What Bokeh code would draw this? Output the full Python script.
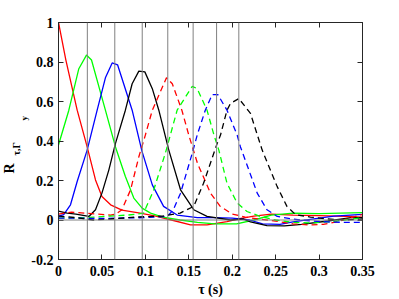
from bokeh.plotting import figure
from bokeh.models import Range1d, LinearAxis, FixedTicker, Span, CustomJSTickFormatter, Title
from bokeh.embed import file_html
from bokeh.resources import INLINE

# ---------------- data ----------------
x_ticks = [0, 0.05, 0.1, 0.15, 0.2, 0.25, 0.3, 0.35]
x_tick_labels = ["0", "0.05", "0.1", "0.15", "0.2", "0.25", "0.3", "0.35"]
y_ticks = [-0.2, 0, 0.2, 0.4, 0.6, 0.8, 1.0]
y_tick_labels = ["-0.2", "0", "0.2", "0.4", "0.6", "0.8", "1"]

peak_times = [0.0332, 0.0648, 0.0964, 0.1258, 0.155, 0.182, 0.2076]

red_t = [0, 0.0085, 0.0215, 0.033, 0.0426, 0.050, 0.060, 0.073, 0.094, 0.112, 0.13,
         0.152, 0.171, 0.194, 0.21, 0.225, 0.245, 0.27, 0.3, 0.33, 0.35]
red_v = [1.0, 0.81, 0.556, 0.37, 0.203, 0.119, 0.077, 0.05, 0.035, 0.02, 0.0,
         -0.025, -0.025, -0.008, 0.008, 0.02, 0.03, 0.025, 0.022, 0.018, 0.015]

green_t = [0, 0.0119, 0.0234, 0.0322, 0.038, 0.054, 0.0656, 0.077, 0.0867, 0.0963,
           0.106, 0.12, 0.14, 0.16, 0.18, 0.205, 0.225, 0.245, 0.27, 0.3, 0.35]
green_v = [0.38, 0.556, 0.766, 0.835, 0.81, 0.556, 0.37, 0.22, 0.111, 0.06,
           0.035, 0.015, 0.0, -0.012, -0.02, -0.02, 0.0, 0.025, 0.035, 0.032, 0.037]

blue_t = [0, 0.006, 0.0138, 0.0215, 0.033, 0.0445, 0.054, 0.0618, 0.068, 0.0848,
          0.096, 0.108, 0.121, 0.1366, 0.16, 0.18, 0.2, 0.22, 0.235, 0.255, 0.27,
          0.29, 0.317, 0.35]
blue_v = [0.02, 0.027, 0.077, 0.195, 0.354, 0.556, 0.72, 0.795, 0.786, 0.556,
          0.35, 0.178, 0.069, 0.025, 0.012, 0.012, 0.01, 0.0, -0.02, -0.022, -0.01,
          0.003, 0.02, 0.028]

black_t = [0, 0.01, 0.02, 0.035, 0.0426, 0.05, 0.058, 0.0656, 0.077, 0.0848, 0.0925,
           0.0994, 0.108, 0.1155, 0.127, 0.1405, 0.1557, 0.171, 0.198, 0.213, 0.221,
           0.24, 0.26, 0.28, 0.31, 0.337, 0.35]
black_v = [0.045, 0.035, 0.03, 0.018, 0.052, 0.136, 0.254, 0.388, 0.556, 0.69, 0.754,
           0.75, 0.665, 0.556, 0.354, 0.153, 0.052, 0.018, 0.0, 0.005, -0.01,
           -0.028, -0.03, -0.022, -0.005, 0.012, 0.012]

red_d_t = [0, 0.015, 0.03, 0.045, 0.06, 0.066, 0.073, 0.083, 0.0925, 0.1, 0.108,
           0.1243, 0.131, 0.142, 0.15, 0.16, 0.175, 0.186, 0.2, 0.215, 0.23, 0.25,
           0.27, 0.29, 0.305, 0.32, 0.337, 0.35]
red_d_v = [0.03, 0.04, 0.035, 0.03, 0.025, 0.03, 0.052, 0.153, 0.32, 0.43, 0.556,
           0.72, 0.69, 0.556, 0.43, 0.287, 0.136, 0.07, 0.03, 0.015, 0.005, -0.005,
           -0.02, -0.025, -0.022, -0.01, 0.012, 0.028]

green_d_t = [0, 0.03, 0.06, 0.08, 0.09, 0.098, 0.1097, 0.123, 0.1366, 0.154, 0.1597,
             0.171, 0.179, 0.1846, 0.194, 0.2057, 0.217, 0.2325, 0.25, 0.27, 0.29,
             0.31, 0.33, 0.35]
green_d_v = [0.01, 0.012, 0.02, 0.025, 0.03, 0.035, 0.153, 0.338, 0.556, 0.677, 0.665,
             0.556, 0.43, 0.354, 0.186, 0.086, 0.043, 0.018, 0.0, -0.012, -0.015,
             -0.01, 0.0, 0.012]

blue_d_t = [0, 0.05, 0.1, 0.125, 0.132, 0.1405, 0.154, 0.1597, 0.169, 0.177, 0.1834,
            0.194, 0.2057, 0.2095, 0.2288, 0.24, 0.2518, 0.27, 0.29, 0.31, 0.33, 0.35]
blue_d_v = [0.01, 0.008, 0.012, 0.018, 0.05, 0.136, 0.338, 0.43, 0.556, 0.635, 0.635,
            0.556, 0.43, 0.37, 0.136, 0.052, 0.018, 0.005, -0.005, -0.01, -0.012, -0.012]

black_d_t = [0, 0.02, 0.04, 0.06, 0.09, 0.12, 0.14, 0.1557, 0.167, 0.1827, 0.1865,
             0.194, 0.198, 0.2076, 0.221, 0.2345, 0.2518, 0.263, 0.273, 0.29, 0.31,
             0.33, 0.35]
black_d_v = [0.02, 0.012, 0.0, 0.005, 0.015, 0.02, 0.035, 0.069, 0.186, 0.388, 0.43,
             0.556, 0.59, 0.615, 0.54, 0.354, 0.169, 0.069, 0.027, 0.015, 0.005,
             0.0, 0.005]

# ---------------- figure ----------------
FONT = "Liberation Serif"
AX = "#262626"

p = figure(width=399, height=299, output_backend="svg", toolbar_location=None,
           x_range=Range1d(0, 0.35), y_range=Range1d(-0.2, 1.0),
           min_border_left=58, min_border_right=37, min_border_top=22,
           min_border_bottom=39)
p.background_fill_color = "white"
p.border_fill_color = "white"
p.outline_line_color = AX
p.outline_line_width = 1
p.xgrid.visible = False
p.ygrid.visible = False


def style_axis(ax, ticks, labels, show_labels=True):
    ax.ticker = FixedTicker(ticks=ticks)
    ax.axis_line_color = AX
    ax.major_tick_line_color = AX
    ax.major_tick_in = 5
    ax.major_tick_out = 0
    ax.minor_tick_line_color = None
    ax.major_label_text_font = FONT
    ax.major_label_text_font_style = "bold"
    ax.major_label_text_color = "black"
    ax.major_label_text_font_size = "14px"
    if show_labels:
        ax.major_label_overrides = {t: l for t, l in zip(ticks, labels)}
    else:
        ax.formatter = CustomJSTickFormatter(code="return ''")
        ax.major_label_standoff = 0


style_axis(p.xaxis[0], x_ticks, x_tick_labels)
p.xaxis[0].major_label_standoff = 6
p.xaxis[0].axis_label = "τ (s)"
p.xaxis[0].axis_label_text_font = FONT
p.xaxis[0].axis_label_text_font_style = "bold"
p.xaxis[0].axis_label_text_font_size = "14px"
p.xaxis[0].axis_label_text_color = "black"
p.xaxis[0].axis_label_standoff = 3
style_axis(p.yaxis[0], y_ticks, y_tick_labels)
p.yaxis[0].major_label_standoff = 5

top = LinearAxis()
style_axis(top, x_ticks, x_tick_labels, show_labels=False)
p.add_layout(top, "above")
right = LinearAxis()
style_axis(right, y_ticks, y_tick_labels, show_labels=False)
p.add_layout(right, "right")

# y-axis label R_{tau,Gamma_y}, built from three stacked titles
for txt, size, off, so in [("y", "9px", 139, 0), ("τ,Γ", "10px", 104, -10.5),
                           ("R", "14px", 86, -7.5)]:
    p.add_layout(Title(text=txt, align="left", offset=off, standoff=so,
                       text_font=FONT, text_font_style="bold",
                       text_font_size=size, text_color="black"), "left")

# grey reference lines
for t in peak_times:
    p.add_layout(Span(location=t, dimension="height", line_color="#808080",
                      line_width=1))
p.add_layout(Span(location=0, dimension="width", line_color="#808080", line_width=1))

LW = 1.3
DASH = "6 4"
p.line(red_t, red_v, line_color="#ff0000", line_width=LW)
p.line(green_t, green_v, line_color="#00ff00", line_width=LW)
p.line(blue_t, blue_v, line_color="#0000ff", line_width=LW)
p.line(black_t, black_v, line_color="#000000", line_width=LW)
p.line(red_d_t, red_d_v, line_color="#ff0000", line_width=LW, line_dash=DASH)
p.line(green_d_t, green_d_v, line_color="#00ff00", line_width=LW, line_dash=DASH)
p.line(blue_d_t, blue_d_v, line_color="#0000ff", line_width=LW, line_dash=DASH)
p.line(black_d_t, black_d_v, line_color="#000000", line_width=LW, line_dash=DASH)

open("out.html", "w").write(file_html(p, INLINE))
